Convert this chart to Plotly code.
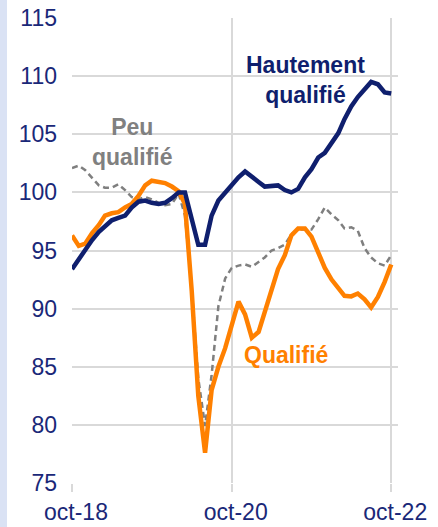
import pandas as pd
import plotly.graph_objects as go

months = pd.date_range("2018-10-01", periods=49, freq="MS")

hautement = [93.4, 94.3, 95.0, 95.9, 96.6, 97.1, 97.6, 97.8, 98.0, 98.7,
             99.2, 99.3, 99.1, 99.0, 99.1, 99.5, 100.0, 100.0, 97.8, 95.5,
             95.5, 98.0, 99.3, 100.0, 100.7, 101.3, 101.8, 101.4, 100.9, 100.5,
             100.6, 100.6, 100.2, 100.0, 100.3, 101.3, 102.0, 103.0, 103.4, 104.2,
             105.1, 106.3, 107.4, 108.2, 108.9, 109.5, 109.3, 108.6, 108.5]

qualifie = [96.3, 95.4, 95.6, 96.5, 97.2, 98.0, 98.2, 98.3, 98.7, 99.0,
            99.7, 100.6, 101.0, 100.9, 100.8, 100.5, 100.1, 99.0, 91.5, 82.5,
            77.6, 83.0, 85.0, 86.6, 88.5, 90.6, 89.5, 87.5, 88.0, 89.8,
            91.8, 93.4, 94.6, 96.3, 96.9, 96.9, 96.2, 94.7, 93.5, 92.5,
            91.7, 91.1, 91.05, 91.3, 90.8, 90.1, 91.0, 92.3, 93.8]

peu = [102.1, 102.3, 101.9, 101.2, 100.6, 100.4, 100.4, 100.7, 100.2, 99.6,
       99.4, 99.6, 99.4, 99.1, 98.9, 99.0, 99.9, 98.0, 91.7, 84.0,
       79.9, 84.3, 90.2, 92.6, 93.5, 93.7, 93.8, 93.6, 94.0, 94.4,
       95.0, 95.2, 95.5, 96.4, 96.8, 96.8, 96.8, 97.7, 98.7, 98.1,
       97.6, 96.9, 97.0, 96.7, 95.2, 94.4, 93.9, 93.7, 94.6]

tick_dates = ["2018-10-01", "2020-10-01", "2022-10-01"]
tick_labels = ["oct-18", "oct-20", "oct-22"]
y_ticks = [75, 80, 85, 90, 95, 100, 105, 110, 115]

NAVY = "#0f1f6e"
ORANGE = "#ff8000"
GREY = "#7f7f7f"
GRID = "#d9d9d9"
FONT = "Liberation Sans, Arial, sans-serif"

fig = go.Figure()
fig.add_trace(go.Scatter(x=months, y=peu, mode="lines",
                         line=dict(color=GREY, width=2.5, dash="6px,4px"),
                         hoverinfo="skip"))
fig.add_trace(go.Scatter(x=months, y=qualifie, mode="lines",
                         line=dict(color=ORANGE, width=4.5),
                         hoverinfo="skip"))
fig.add_trace(go.Scatter(x=months, y=hautement, mode="lines",
                         line=dict(color=NAVY, width=4.5),
                         hoverinfo="skip"))

W, H = 438, 527
L, R, T, B = 72, 40, 18, 44
pw, ph = W - L - R, H - T - B

fig.add_shape(type="rect", xref="paper", yref="paper",
              x0=-L / pw, x1=(7 - L) / pw, y0=-B / ph, y1=1 + T / ph,
              fillcolor="#dae2f4", line=dict(width=0), layer="below")

ann_font = dict(family=FONT, size=23)
fig.add_annotation(x="2019-07-07", y=104.3, text="<b>Peu<br>qualifié</b>",
                   showarrow=False, font=dict(color="#808080", **ann_font), align="center")
fig.add_annotation(x="2021-09-04", y=109.65, text="<b>Hautement<br>qualifié</b>",
                   showarrow=False, font=dict(color=NAVY, **ann_font), align="center")
fig.add_annotation(x="2021-06-07", y=86.0, text="<b>Qualifié</b>",
                   showarrow=False, font=dict(color=ORANGE, **ann_font), align="center")

fig.update_layout(
    width=W, height=H,
    margin=dict(l=L, r=R, t=T, b=B, autoexpand=False),
    paper_bgcolor="white", plot_bgcolor="white",
    showlegend=False,
    font=dict(family=FONT, size=23, color="#1a2878"),
)
fig.update_xaxes(
    type="date", range=["2018-10-01", "2022-11-01"],
    tickvals=tick_dates, ticktext=tick_labels,
    showgrid=True, gridcolor=GRID, gridwidth=2,
    ticks="outside", ticklen=8, tickwidth=2, tickcolor=GRID,
    showline=False, zeroline=False, ticklabelshift=4, automargin=False,
    tickfont=dict(family=FONT, size=23, color="#1a2878"),
)
fig.update_yaxes(
    range=[75, 115], tickvals=y_ticks,
    showgrid=True, gridcolor=GRID, gridwidth=2,
    zeroline=False, showline=False, ticks="", ticklabelstandoff=14, automargin=False,
    tickfont=dict(family=FONT, size=23, color="#1a2878"),
)

fig.write_html("out.html", config={"displayModeBar": False},
               post_script="document.body.style.margin='0';")
